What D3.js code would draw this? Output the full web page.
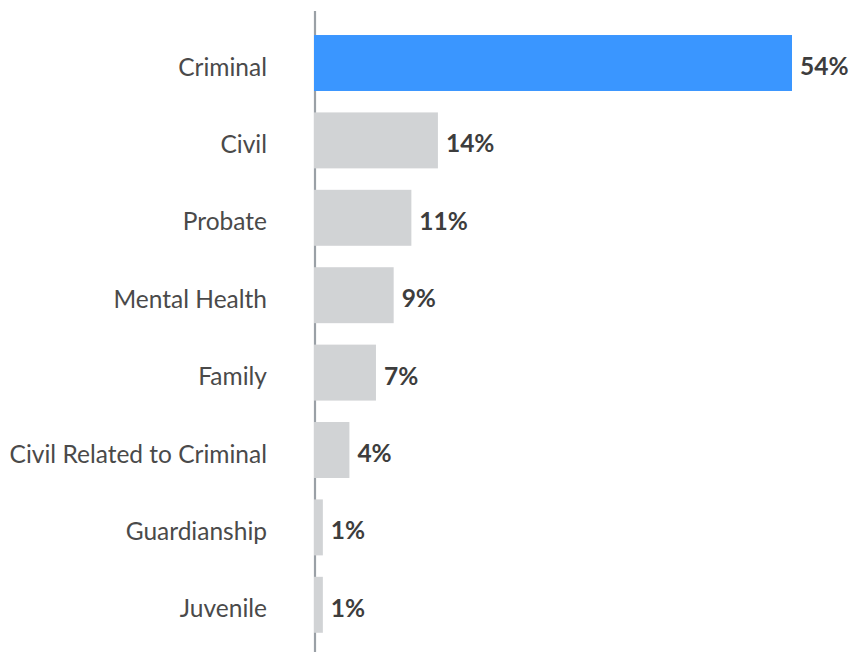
<!DOCTYPE html>
<html>
<head>
<meta charset="utf-8">
<script src="https://cdn.jsdelivr.net/npm/d3@7"></script>
<style>
  html, body { margin: 0; padding: 0; background: #fff; }
  svg { display: block; }
</style>
</head>
<body>
<svg id="chart" width="849" height="652"></svg>
<script>
const categories = ["Criminal", "Civil", "Probate", "Mental Health", "Family", "Civil Related to Criminal", "Guardianship", "Juvenile"];
const values = [54, 14, 11, 9, 7, 4, 1, 1];
const valueLabels = ["54%", "14%", "11%", "9%", "7%", "4%", "1%", "1%"];
const highlight = ["Criminal"];

const data = categories.map((c, i) => ({ cat: c, val: values[i], label: valueLabels[i] }));

const svg = d3.select("#chart");
const x0 = 314;
const x = d3.scaleLinear().domain([0, 54]).range([x0, 792]);
const y = d3.scaleBand().domain(categories).range([24.3, 643.5]).paddingInner(0.277).paddingOuter(0.1385);

// axis line
svg.append("line")
  .attr("x1", x0 + 1).attr("x2", x0 + 1)
  .attr("y1", 11).attr("y2", 652)
  .attr("stroke", "#9aa0a6").attr("stroke-width", 2.2);

svg.selectAll("rect.bar").data(data).join("rect")
  .attr("class", "bar")
  .attr("x", x(0))
  .attr("y", d => y(d.cat))
  .attr("width", d => x(d.val) - x(0))
  .attr("height", y.bandwidth())
  .attr("fill", d => highlight.includes(d.cat) ? "#3a96ff" : "#d1d3d5");

svg.selectAll("text.cat").data(data).join("text")
  .attr("class", "cat")
  .attr("x", 267)
  .attr("y", d => y(d.cat) + y.bandwidth() / 2 + 12.5)
  .attr("text-anchor", "end")
  .attr("font-family", "Lato, sans-serif")
  .attr("font-weight", 400)
  .attr("font-size", 24.5)
  .attr("fill", "#4a4a4a")
  .text(d => d.cat);

svg.selectAll("text.val").data(data).join("text")
  .attr("class", "val")
  .attr("x", d => x(d.val) + 8)
  .attr("y", d => y(d.cat) + y.bandwidth() / 2 + 12)
  .attr("font-family", "Lato, sans-serif")
  .attr("font-weight", 700)
  .attr("font-size", 24.5)
  .attr("fill", "#3d3d3d")
  .text(d => d.label);
</script>
</body>
</html>
